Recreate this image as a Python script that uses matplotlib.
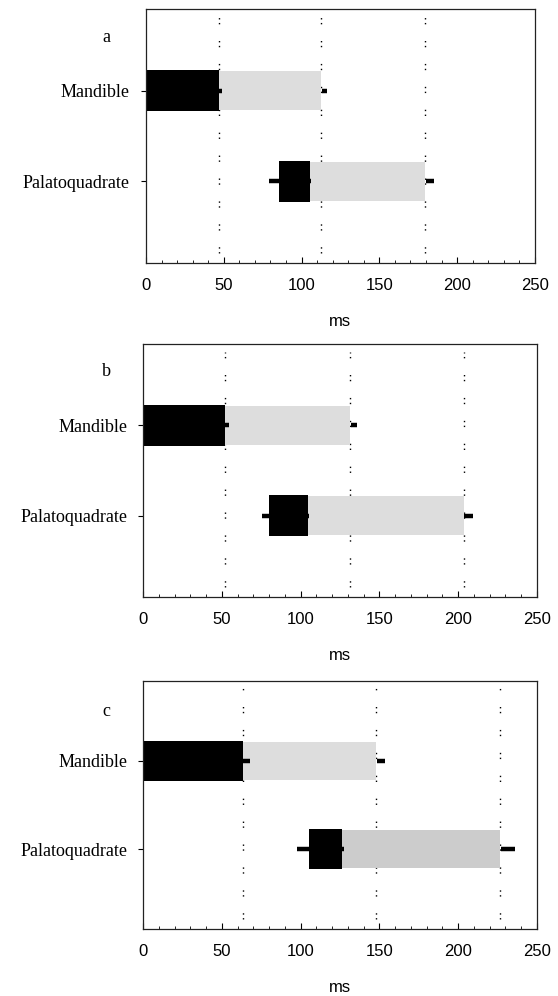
import numpy as np
import matplotlib
matplotlib.use("Agg")
import matplotlib.pyplot as plt
from matplotlib.ticker import MultipleLocator

panel_labels = ['a', 'b', 'c']
rows = ['Mandible', 'Palatoquadrate']

# mandible: black 0 -> mid, grey mid -> end
mand_mid = [47.0, 52.0, 63.6]
mand_end = [112.7, 131.4, 147.7]
mand_mid_err = [1.7, 2.4, 4.6]
mand_end_err = [2.8, 3.8, 5.5]

# palatoquadrate: black start -> mid, grey mid -> end
pal_start = [85.5, 79.7, 105.5]
pal_mid = [105.5, 104.5, 126.5]
pal_end = [179.5, 203.4, 226.4]
pal_start_err = [6.2, 3.9, 8.0]
pal_mid_err = [0.8, 1.0, 1.0]
pal_end_err = [5.2, 5.3, 9.2]

pal_grey = ['#dddddd', '#dddddd', '#cccccc']

fig = plt.figure(figsize=(5.58, 9.96), dpi=100)
axes_pos = [[0.2616, 0.736, 0.697, 0.255],
            [0.2563, 0.4006, 0.706, 0.254],
            [0.2563, 0.0673, 0.706, 0.249]]
label_y = [38, 372, 711]

serif = ['Liberation Serif', 'DejaVu Serif']
sans = ['Liberation Sans', 'DejaVu Sans']

for i in range(3):
    ax = fig.add_axes(axes_pos[i])
    h = 0.45
    # dotted reference lines
    for xv in [mand_mid[i], mand_end[i], pal_end[i]]:
        ax.axvline(xv, ymin=0.04, ymax=0.97, color='black', lw=1.0,
                   dashes=(1, 2.5, 1, 12), zorder=1)
    ax.barh(1, mand_mid[i], left=0, height=h, color='black', zorder=2)
    ax.barh(1, mand_end[i] - mand_mid[i], left=mand_mid[i], height=h - 0.02,
            color='#dddddd', zorder=2)
    ax.barh(2, pal_mid[i] - pal_start[i], left=pal_start[i], height=h,
            color='black', zorder=2)
    ax.barh(2, pal_end[i] - pal_mid[i], left=pal_mid[i], height=h - 0.02,
            color=pal_grey[i], zorder=2)

    # one-sided error stubs
    ax.errorbar([mand_mid[i], mand_end[i] + 0.6], [1, 1],
                xerr=[[0, 0], [mand_mid_err[i], mand_end_err[i]]],
                fmt='none', ecolor='black', elinewidth=3.2, capsize=0, zorder=3)
    ax.errorbar([pal_start[i], pal_mid[i], pal_end[i] + 0.6], [2, 2, 2],
                xerr=[[pal_start_err[i], 0, 0],
                      [0, pal_mid_err[i], pal_end_err[i]]],
                fmt='none', ecolor='black', elinewidth=3.2, capsize=0, zorder=3)

    ax.set_xlim(0, 250)
    ax.set_ylim(2.9, 0.1)
    ax.set_yticks([1, 2])
    ax.set_yticklabels(rows, family=serif, fontsize=13)
    ax.xaxis.set_major_locator(MultipleLocator(50))
    ax.xaxis.set_minor_locator(MultipleLocator(10))
    ax.tick_params(axis='x', which='major', direction='in', length=4,
                   width=0.8, pad=11, labelsize=12)
    ax.tick_params(axis='x', which='minor', direction='in', length=2.5,
                   width=0.6)
    ax.tick_params(axis='y', direction='out', length=3.5, width=0.8, pad=8)
    for lab in ax.get_xticklabels():
        lab.set_family(sans)
    ax.set_xlabel('ms', family=sans, fontsize=12, labelpad=15)
    for sp in ax.spines.values():
        sp.set_linewidth(0.9)
        sp.set_color('#222222')

    fig.text(106 / 558, 1 - label_y[i] / 996, panel_labels[i], family=serif,
             fontsize=13, ha='center', va='center')

fig.savefig('out.png', dpi=100)
